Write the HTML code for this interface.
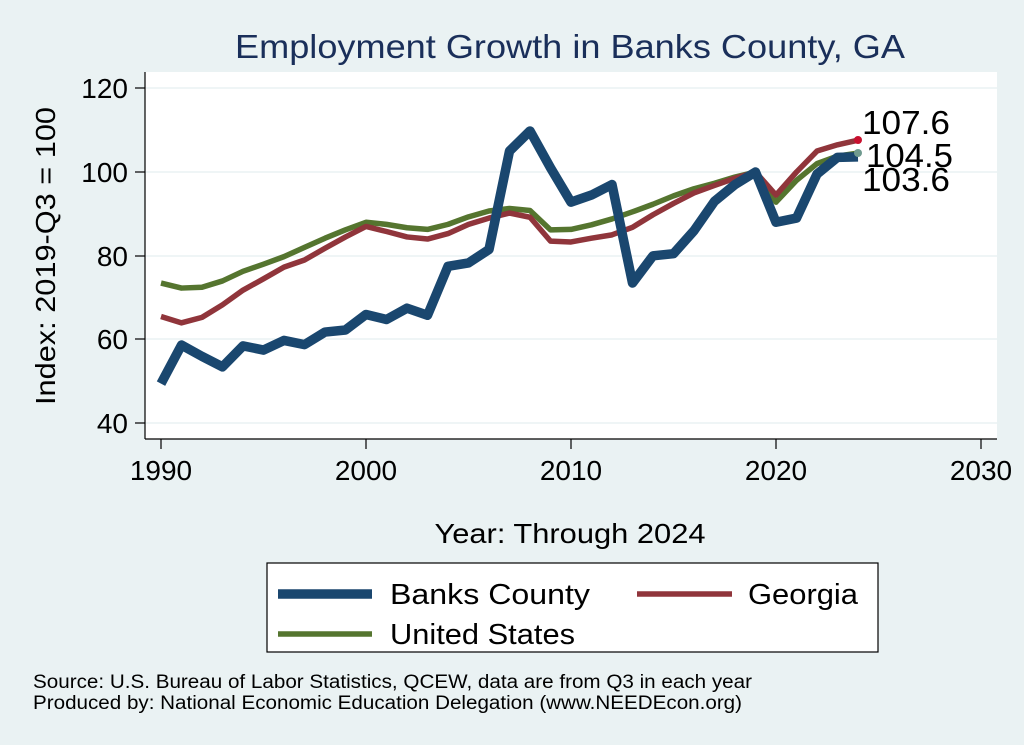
<!DOCTYPE html>
<html><head><meta charset="utf-8"><style>
body{margin:0;background:#eaf2f3;}
svg{display:block;font-family:"Liberation Sans",Arial,sans-serif;}
</style></head><body>
<svg width="1024" height="745" viewBox="0 0 1024 745">
<rect width="1024" height="745" fill="#eaf2f3"/>
<rect x="145" y="72" width="852" height="367" fill="#fff"/>
<g stroke="#eaf2f3" stroke-width="1.5">
<line x1="145" x2="997" y1="88" y2="88"/><line x1="145" x2="997" y1="172" y2="172"/>
<line x1="145" x2="997" y1="256" y2="256"/><line x1="145" x2="997" y1="339" y2="339"/>
<line x1="145" x2="997" y1="423" y2="423"/></g>
<g stroke="#000" stroke-width="1.2">
<line x1="145" x2="145" y1="72" y2="439"/><line x1="145" x2="997" y1="439" y2="439"/>
<line x1="135" x2="145" y1="88" y2="88"/><line x1="135" x2="145" y1="172" y2="172"/>
<line x1="135" x2="145" y1="256" y2="256"/><line x1="135" x2="145" y1="339" y2="339"/>
<line x1="135" x2="145" y1="423" y2="423"/>
<line x1="161" x2="161" y1="439" y2="449"/><line x1="366" x2="366" y1="439" y2="449"/>
<line x1="571" x2="571" y1="439" y2="449"/><line x1="776" x2="776" y1="439" y2="449"/>
<line x1="981" x2="981" y1="439" y2="449"/></g>
<g font-size="28" text-anchor="end">
<text x="128" y="98">120</text><text x="128" y="182">100</text><text x="128" y="266">80</text>
<text x="128" y="349">60</text><text x="128" y="433">40</text></g>
<g font-size="28" text-anchor="middle">
<text x="161" y="480">1990</text><text x="366" y="480">2000</text><text x="571" y="480">2010</text>
<text x="776" y="480">2020</text><text x="981" y="480">2030</text>
<text x="570" y="543" textLength="271" lengthAdjust="spacingAndGlyphs">Year: Through 2024</text></g>
<text x="55" y="256" font-size="28" text-anchor="middle" textLength="298" lengthAdjust="spacingAndGlyphs" transform="rotate(-90 55 256)">Index: 2019-Q3 = 100</text>
<text x="570" y="58" font-size="33" text-anchor="middle" fill="#1a2f5a" textLength="670" lengthAdjust="spacingAndGlyphs">Employment Growth in Banks County, GA</text>
<g transform="translate(161,172) scale(20.5,-4.19)" fill="none" stroke-linejoin="round">
<polyline vector-effect="non-scaling-stroke" stroke="#55752f" stroke-width="5.5" points="0,-26.5 1,-27.7 2,-27.5 3,-26 4,-23.7 5,-22 6,-20.2 7,-18 8,-15.8 9,-13.8 10,-12 11,-12.5 12,-13.3 13,-13.7 14,-12.5 15,-10.7 16,-9.3 17,-8.7 18,-9.2 19,-13.8 20,-13.7 21,-12.6 22,-11.2 23,-9.5 24,-7.7 25,-5.7 26,-4 27,-2.7 28,-1.2 29,0 30,-7.2 31,-2 32,2 33,3.8 34,4.5"/>
<polyline vector-effect="non-scaling-stroke" stroke="#90353b" stroke-width="5.5" points="0,-34.5 1,-36 2,-34.7 3,-31.7 4,-28.2 5,-25.5 6,-22.7 7,-21 8,-18.2 9,-15.5 10,-13 11,-14.2 12,-15.5 13,-16 14,-14.7 15,-12.5 16,-11 17,-9.8 18,-10.8 19,-16.5 20,-16.7 21,-15.8 22,-15 23,-13.2 24,-10.2 25,-7.5 26,-5 27,-3.2 28,-1.5 29,0 30,-5.5 31,0 32,5 33,6.5 34,7.6"/>
<polyline vector-effect="non-scaling-stroke" stroke="#1a476f" stroke-width="9.5" points="0,-50.5 1,-41.3 2,-44 3,-46.5 4,-41.5 5,-42.5 6,-40.2 7,-41.2 8,-38.2 9,-37.7 10,-34 11,-35.2 12,-32.5 13,-34.2 14,-22.5 15,-21.7 16,-18.5 17,5 18,9.8 19,1 20,-7.2 21,-5.5 22,-3 23,-26.5 24,-20 25,-19.5 26,-14 27,-7 28,-3 29,0 30,-12 31,-11 32,-0.5 33,3.5 34,3.6"/>
</g>
<circle cx="858" cy="140" r="4" fill="#c8102e"/>
<circle cx="858" cy="153" r="4" fill="#6f9a8f"/>
<g font-size="33"><text x="862" y="134" textLength="88" lengthAdjust="spacingAndGlyphs">107.6</text><text x="866" y="167" textLength="87" lengthAdjust="spacingAndGlyphs">104.5</text><text x="862" y="191" textLength="88" lengthAdjust="spacingAndGlyphs">103.6</text></g>
<rect x="267" y="563" width="611" height="89" fill="#fff" stroke="#000" stroke-width="1.2"/>
<line x1="278" x2="372" y1="594" y2="594" stroke="#1a476f" stroke-width="9.5"/>
<line x1="637" x2="732" y1="594" y2="594" stroke="#90353b" stroke-width="5.5"/>
<line x1="278" x2="372" y1="634" y2="634" stroke="#55752f" stroke-width="5.5"/>
<g font-size="29"><text x="390" y="604" textLength="200" lengthAdjust="spacingAndGlyphs">Banks  County</text><text x="748" y="604" textLength="110" lengthAdjust="spacingAndGlyphs">Georgia</text><text x="390" y="644" textLength="185" lengthAdjust="spacingAndGlyphs">United States</text></g>
<g font-size="19"><text x="33" y="688" textLength="719" lengthAdjust="spacingAndGlyphs">Source: U.S. Bureau of Labor Statistics, QCEW, data are from Q3 in each year</text>
<text x="33" y="709" textLength="709" lengthAdjust="spacingAndGlyphs">Produced by: National Economic Education Delegation (www.NEEDEcon.org)</text></g>
</svg>
</body></html>
